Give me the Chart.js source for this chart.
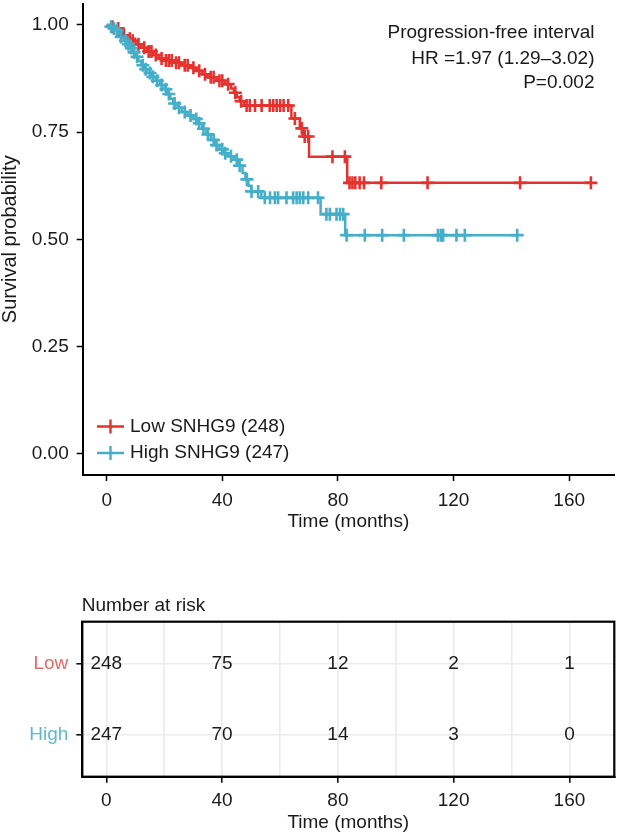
<!DOCTYPE html>
<html><head><meta charset="utf-8">
<script src="https://cdn.jsdelivr.net/npm/chart.js@4.4.1/dist/chart.umd.min.js"></script>
<style>
html,body{margin:0;padding:0;background:#fff;width:619px;height:837px;overflow:hidden}
canvas{position:absolute;left:0}
#c1{top:0}
#c2{top:590px}
</style></head><body>
<canvas id="c1" width="619" height="545"></canvas>
<canvas id="c2" width="619" height="247"></canvas>
<script>
// ---------- data ----------
const GROUPS = ['Low', 'High'];
const LEGEND_LABELS = ['Low SNHG9 (248)', 'High SNHG9 (247)'];
const ANNOT = ['Progression-free interval', 'HR =1.97 (1.29\u20133.02)', 'P=0.002'];
const X_TICKS = [0, 40, 80, 120, 160];
const GRID_X = [0, 20, 40, 60, 80, 100, 120, 140, 160];
const Y_TICKS = [0, 0.25, 0.5, 0.75, 1];

const LOW_T = [0,1.5,3,4.5,5.5,7,8.5,10,12,14,16,18,20,23,26,29,31,33,35,38,41,43,44,45,46,47.5,63.9,66.8,68,70,83.2,167.5];
const LOW_S = [1,0.996,0.992,0.984,0.976,0.968,0.963,0.955,0.947,0.938,0.93,0.922,0.917,0.912,0.906,0.9,0.893,0.885,0.878,0.87,0.862,0.852,0.842,0.832,0.822,0.812,0.782,0.759,0.74,0.693,0.632,0.632];
const LOW_CENSOR = [2,4,6,8,9,11,13,14.5,15.5,17,19,20.5,21.5,22.5,24,25,27,28,30,32,34,36,37,39,40,42,44.5,46.5,48.4,49.5,51.3,53.6,56.4,57.6,58.8,60,61.2,62.8,65.1,67.5,68.5,69.7,78.1,82.4,84,85,86,87.5,89,95,111,143,167.5];

const HIGH_T = [0,1,2,3,4,5,6,7,8,9,10,11,12,13,14,15.5,17,18.5,20,21,22,23,24.5,26,28,30,31.5,33,34.5,36,37.5,39,40.5,42,44,45.5,47,48,49,50,53.5,74,82.5,142];
const HIGH_S = [1,0.996,0.992,0.988,0.98,0.972,0.963,0.955,0.946,0.936,0.926,0.916,0.906,0.897,0.888,0.879,0.87,0.86,0.85,0.839,0.828,0.817,0.807,0.797,0.789,0.781,0.771,0.758,0.745,0.732,0.72,0.71,0.701,0.694,0.686,0.672,0.655,0.64,0.625,0.612,0.597,0.559,0.51,0.51];
const HIGH_CENSOR = [1.5,2.5,3.5,5,6.5,7.5,8.5,9.5,10.5,12.5,13.5,15,16,17.5,19,20.5,21.5,23.5,25,27,29,31,32,33.5,35,37,38,40,41,43,45,46,48.5,50.1,52.4,54.7,56.5,58.2,59.3,62.2,64.5,65.7,66.8,68,69.7,73.1,76,77.2,79.5,80.7,81.8,83,89.3,95.3,102.8,114.6,115.6,116.4,121,123.9,142];

const RISK_T = [0, 40, 80, 120, 160];
const LOW_RISK = [248, 75, 12, 2, 1];
const HIGH_RISK = [247, 70, 14, 3, 0];

// ---------- style ----------
const RED = '#e5322f';
const BLUE = '#45aec8';
const RED_LABEL = '#e06a6a';
const BLUE_LABEL = '#5bbccd';
const FAMILY = '"Liberation Sans", Arial, Helvetica, sans-serif';
const TXT = '#1a1a1a';
const F19 = {family: FAMILY, size: 19, lineHeight: 1.2};

function steps(T, S) { return T.map((t, i) => ({x: t, y: S[i]})); }
function survAt(T, S, c) { let s = S[0]; for (let i = 0; i < T.length; i++) { if (T[i] <= c) s = S[i]; } return s; }
function censorPts(T, S, C) { return C.map(c => ({x: c, y: survAt(T, S, c)})); }
function noPad(s) { s.paddingTop = 0; s.paddingBottom = 0; s.paddingLeft = 0; s.paddingRight = 0; }

const annotPlugin = {
  id: 'annot',
  afterDatasetsDraw(chart) {
    const ctx = chart.ctx;
    ctx.save();
    ctx.font = '19px ' + FAMILY;
    ctx.fillStyle = TXT;
    ctx.textBaseline = 'middle';
    ctx.textAlign = 'right';
    const ys = [33, 58.5, 83];
    ANNOT.forEach((t, i) => ctx.fillText(t, 594.5, ys[i]));
    const cols = [RED, BLUE];
    const ly = [426.5, 453];
    LEGEND_LABELS.forEach((lab, i) => {
      ctx.strokeStyle = cols[i];
      ctx.lineWidth = 2.4;
      ctx.beginPath();
      ctx.moveTo(97, ly[i]); ctx.lineTo(124, ly[i]);
      ctx.moveTo(110.5, ly[i] - 7); ctx.lineTo(110.5, ly[i] + 7);
      ctx.stroke();
      ctx.fillStyle = TXT;
      ctx.textAlign = 'left';
      ctx.fillText(lab, 130, ly[i]);
    });
    ctx.restore();
  }
};

new Chart(document.getElementById('c1'), {
  type: 'line',
  data: {
    datasets: [
      {data: censorPts(HIGH_T, HIGH_S, HIGH_CENSOR), showLine: false, pointStyle: 'cross', pointRadius: 6.5, pointBorderWidth: 2.6, pointBorderColor: BLUE, borderColor: BLUE},
      {data: steps(HIGH_T, HIGH_S), stepped: true, borderColor: BLUE, borderWidth: 2.5, pointRadius: 0, fill: false},
      {data: censorPts(LOW_T, LOW_S, LOW_CENSOR), showLine: false, pointStyle: 'cross', pointRadius: 6.5, pointBorderWidth: 2.6, pointBorderColor: RED, borderColor: RED},
      {data: steps(LOW_T, LOW_S), stepped: true, borderColor: RED, borderWidth: 2.5, pointRadius: 0, fill: false}
    ]
  },
  options: {
    responsive: false, animation: false, events: [],
    layout: {autoPadding: false, padding: {left: 0, top: 3.5, right: 5, bottom: 0}},
    plugins: {legend: {display: false}, tooltip: {enabled: false}},
    scales: {
      x: {
        type: 'linear', min: -8.3, max: 175.5,
        afterBuildTicks: s => { s.ticks = X_TICKS.map(v => ({value: v})); },
        afterFit: s => { s.height = 70; noPad(s); },
        ticks: {color: TXT, font: F19, padding: 8, maxRotation: 0, autoSkip: false, callback: v => String(v)},
        grid: {display: true, drawOnChartArea: false, drawTicks: true, tickLength: 6, tickColor: '#000', tickWidth: 1.5},
        border: {display: true, color: '#000', width: 2},
        title: {display: true, text: 'Time (months)', color: TXT, font: F19, padding: {top: 0, bottom: 11.6}}
      },
      y: {
        type: 'linear', min: -0.049, max: 1.05,
        afterBuildTicks: s => { s.ticks = Y_TICKS.map(v => ({value: v})); },
        afterFit: s => { s.width = 82.7; noPad(s); },
        ticks: {color: TXT, font: F19, padding: 8, callback: v => Number(v).toFixed(2)},
        grid: {display: true, drawOnChartArea: false, drawTicks: true, tickLength: 6, tickColor: '#000', tickWidth: 1.5},
        border: {display: true, color: '#000', width: 2},
        title: {display: true, text: 'Survival probability', color: TXT, font: {family: FAMILY, size: 20, lineHeight: 1}, padding: 0}
      }
    }
  },
  plugins: [annotPlugin]
});

const riskPlugin = {
  id: 'risk',
  afterDraw(chart) {
    const ctx = chart.ctx, a = chart.chartArea, xs = chart.scales.x, ys = chart.scales.y;
    ctx.save();
    ctx.strokeStyle = '#000';
    ctx.lineWidth = 2.2;
    ctx.strokeRect(a.left, a.top, a.right - a.left, a.bottom - a.top);
    ctx.font = '19px ' + FAMILY;
    ctx.fillStyle = TXT;
    ctx.textBaseline = 'middle';
    ctx.textAlign = 'center';
    [LOW_RISK, HIGH_RISK].forEach((row, r) => {
      row.forEach((v, i) => ctx.fillText(String(v), xs.getPixelForValue(RISK_T[i]), ys.getPixelForValue(r + 1)));
    });
    ctx.textAlign = 'left';
    ctx.fillText('Number at risk', 81.7, 15.5);
    ctx.restore();
  }
};

new Chart(document.getElementById('c2'), {
  type: 'scatter',
  data: {datasets: []},
  options: {
    responsive: false, animation: false, events: [],
    layout: {autoPadding: false, padding: {left: 0, top: 31.7, right: 4.7, bottom: 0}},
    plugins: {legend: {display: false}, tooltip: {enabled: false}},
    scales: {
      x: {
        type: 'linear', min: -8.3, max: 175.5,
        afterBuildTicks: s => { s.ticks = GRID_X.map(v => ({value: v})); },
        afterFit: s => { s.height = 60.3; noPad(s); },
        ticks: {color: TXT, font: F19, padding: 7, maxRotation: 0, autoSkip: false, callback: v => X_TICKS.includes(v) ? String(v) : ''},
        grid: {display: true, drawOnChartArea: true, color: '#ebebeb', lineWidth: 1.6, drawTicks: true, tickLength: 6,
               tickColor: c => (c.tick && X_TICKS.includes(c.tick.value)) ? '#000' : 'rgba(0,0,0,0)', tickWidth: 1.5},
        border: {display: true, color: '#000', width: 2},
        title: {display: true, text: 'Time (months)', color: TXT, font: F19, padding: {top: 0, bottom: 2.6}}
      },
      y: {
        type: 'linear', min: 0.4, max: 2.6, reverse: true,
        afterBuildTicks: s => { s.ticks = [1, 2].map(v => ({value: v})); },
        afterFit: s => { s.width = 82.3; noPad(s); },
        ticks: {font: F19, padding: 8, callback: v => GROUPS[v - 1],
                color: c => (c.tick && c.tick.value === 1) ? RED_LABEL : BLUE_LABEL},
        grid: {display: true, drawOnChartArea: true, color: '#ebebeb', lineWidth: 1.6, drawTicks: true, tickLength: 6, tickColor: '#000', tickWidth: 1.5},
        border: {display: true, color: '#000', width: 2}
      }
    }
  },
  plugins: [riskPlugin]
});
</script>
</body></html>
